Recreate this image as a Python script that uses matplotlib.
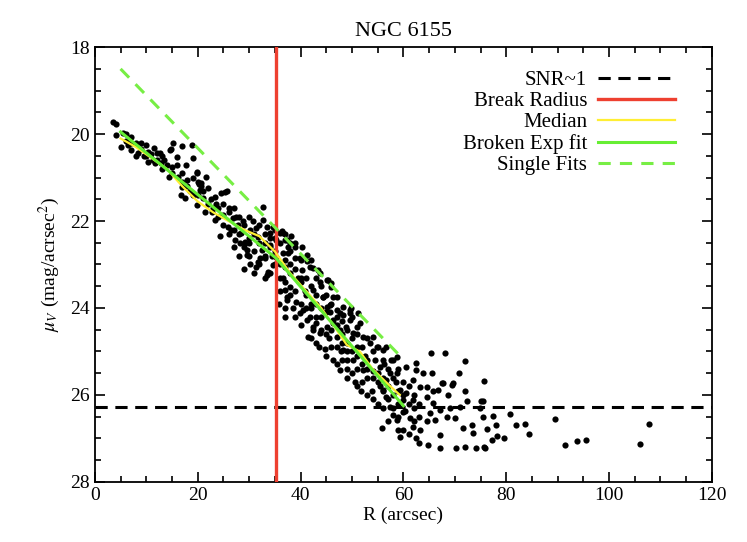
import numpy as np
import matplotlib
matplotlib.use('Agg')
import matplotlib.pyplot as plt
from matplotlib.ticker import MultipleLocator

plt.rcParams['font.family'] = ['Liberation Serif', 'DejaVu Serif']
plt.rcParams['mathtext.fontset'] = 'stix'

# surface brightness points (R arcsec, mu_V)
pts_inner = [(3.5, 19.72), (4.1, 19.77), (4.1, 20.02), (5.5, 19.98), (7.1, 20.06), (7.0, 20.37),
             (8.4, 20.43), (10.0, 20.24), (10.4, 20.41), (11.5, 20.33), (12.0, 20.44), (12.6, 20.44),
             (10.4, 20.64), (11.7, 20.66), (11.3, 20.6), (12.8, 20.67), (14.6, 20.37), (15.2, 20.21),
             (15.9, 20.52), (14.5, 20.98), (16.2, 20.98), (16.9, 21.21), (16.7, 21.4), (17.5, 21.48),
             (18.9, 20.25), (19.8, 20.87), (19.1, 20.56), (20.1, 21.1), (20.4, 21.29), (21.1, 21.48),
             (19.8, 21.63), (21.4, 21.79), (19.1, 21.4), (20.6, 21.2), (14.9, 20.35), (16.9, 20.28),
             (17.8, 20.71), (19.9, 20.89), (20.3, 21.15), (22.0, 21.25), (21.6, 20.98), (24.6, 21.35),
             (23.3, 21.44), (20.7, 21.13), (22.7, 21.79), (23.3, 21.98), (24.3, 22.35),
             (6.0, 20.15), (8.0, 20.2), (9.0, 20.35), (13.5, 20.6), (15.0, 20.75), (17.0, 20.9),
             (18.0, 21.05), (22.5, 21.5), (24.0, 21.7), (6.5, 20.25), (9.5, 20.5), (13.0, 20.8),
             (18.5, 21.3), (23.5, 21.6), (5.0, 20.3), (6.0, 20.0), (7.0, 20.2), (8.0, 20.5),
             (9.0, 20.2), (10.0, 20.5), (11.0, 20.45), (12.0, 20.6), (13.0, 20.5), (14.0, 20.7),
             (15.0, 20.9), (16.0, 20.7), (17.0, 21.1), (18.0, 21.2), (19.0, 21.0), (20.0, 21.4),
             (21.0, 21.3), (22.0, 21.6), (23.0, 21.7), (24.0, 21.9)]
pts_mid = [(25.3, 21.33), (25.6, 21.3), (25.0, 21.86), (25.9, 22.13), (26.9, 21.94), (27.2, 22.44),
           (28.5, 22.28), (29.2, 22.48), (29.5, 22.67), (30.8, 22.01), (31.4, 22.17), (32.1, 22.86),
           (32.7, 21.98), (33.4, 22.13), (34.0, 22.28), (34.7, 23.01), (28.2, 22.51), (30.1, 22.21),
           (31.8, 22.36), (32.7, 21.67), (29.2, 22.51), (29.5, 22.78), (31.4, 23.05), (33.4, 23.24),
           (33.1, 22.86), (30.1, 23.0), (31.7, 22.94), (33.6, 23.17), (32.5, 22.67), (34.0, 22.55),
           (34.7, 22.13), (26.0, 21.7), (27.5, 21.9), (28.8, 22.0), (30.0, 22.4), (33.0, 22.5),
           (35.0, 22.4), (26.5, 22.2), (27.8, 22.1), (34.5, 22.8),
           (25.0, 21.6), (25.0, 22.1), (26.0, 21.8), (26.0, 22.3), (27.0, 21.7), (27.0, 22.2),
           (27.0, 22.6), (28.0, 21.9), (28.0, 22.3), (28.0, 22.8), (29.0, 22.1), (29.0, 22.6),
           (29.0, 23.1), (30.0, 21.9), (30.0, 22.5), (30.0, 22.8), (31.0, 22.3), (31.0, 22.7),
           (31.0, 23.2), (32.0, 22.1), (32.0, 22.5), (32.0, 23.0), (33.0, 22.3), (33.0, 22.8),
           (33.0, 23.3), (34.0, 22.4), (34.0, 22.6), (34.0, 23.2), (35.0, 22.2), (35.0, 22.7),
           (35.0, 23.0)]
pts_outer = [(36.6, 22.28), (37.9, 22.51), (37.6, 22.74), (39.9, 22.86), (41.2, 22.78), (41.8, 23.05),
             (40.2, 23.13), (36.9, 23.59), (37.3, 23.82), (38.6, 24.01), (39.9, 24.12), (43.4, 23.13),
             (43.8, 23.4), (45.4, 23.36), (42.5, 23.59), (44.4, 23.74), (45.7, 23.93), (47.0, 24.05),
             (48.3, 24.16), (41.2, 24.28), (42.5, 24.43), (43.8, 24.58), (41.5, 24.66), (46.3, 24.35),
             (47.6, 24.51), (49.6, 24.28), (50.9, 24.43), (52.2, 24.66), (53.5, 24.81), (54.8, 24.89),
             (49.9, 24.01), (51.2, 24.12), (36.3, 22.24), (36.9, 22.44), (37.6, 22.59), (36.6, 22.74),
             (38.9, 22.86), (36.0, 22.28), (37.3, 22.44), (41.2, 22.93), (42.5, 23.09), (43.8, 23.2),
             (45.1, 23.36), (46.0, 23.51), (47.0, 23.74), (48.3, 23.97), (49.6, 24.12), (36.9, 23.05),
             (36.6, 23.32), (37.9, 23.51), (37.3, 23.74), (39.2, 23.86), (40.5, 24.05), (41.8, 24.2),
             (43.1, 24.35), (42.5, 24.51), (45.1, 24.43), (46.3, 24.28), (47.6, 24.12), (48.9, 24.43),
             (50.2, 24.58), (44.4, 23.74), (45.1, 23.97), (35.3, 22.44), (35.3, 22.82),
             (46.0, 23.43), (46.3, 23.74), (49.6, 24.05), (51.5, 24.35), (54.1, 24.66), (56.7, 24.89),
             (58.7, 25.12), (47.0, 24.66), (48.3, 24.97), (50.2, 25.2), (52.2, 25.43), (55.4, 25.35),
             (57.4, 25.5), (60.6, 25.35), (62.5, 25.43), (46.3, 25.2), (47.6, 25.43),
             (39.0, 22.6), (40.0, 23.4), (38.0, 23.0), (44.0, 24.0), (45.5, 24.7), (48.0, 24.8),
             (49.0, 25.0), (51.0, 24.9), (52.5, 25.1), (53.0, 25.6), (54.5, 25.2), (55.5, 25.8),
             (56.0, 25.6), (57.5, 25.2), (58.5, 25.7), (50.5, 25.7), (51.8, 25.9), (53.8, 25.9),
             (44.8, 24.95), (43.0, 23.7), (40.8, 23.6), (39.5, 23.3), (42.0, 24.0), (45.8, 24.1),
             (47.8, 25.0), (36.0, 23.3), (38.2, 22.35), (40.3, 22.6), (35.8, 23.9), (37.0, 24.2),
             (43.5, 24.9), (49.0, 25.4), (54.0, 25.45), (56.2, 25.3)]
pts_dense = [(36, 22.5), (36, 23.0), (36, 23.6), (37, 22.3), (37, 22.9), (37, 23.4), (37, 24.0),
             (38, 22.7), (38, 23.2), (38, 23.7), (39, 22.5), (39, 23.1), (39, 23.6), (39, 24.2),
             (40, 22.9), (40, 23.3), (40, 23.9), (40, 24.4), (41, 23.3), (41, 23.7), (41, 24.0),
             (42, 22.9), (42, 23.5), (42, 23.9), (42, 24.7), (43, 23.3), (43, 23.9), (43, 24.2),
             (43, 24.8), (44, 23.5), (44, 24.2), (44, 24.5), (45, 23.7), (45, 24.1), (45, 24.6),
             (45, 25.1), (46, 23.9), (46, 24.5), (46, 24.9), (47, 24.2), (47, 24.4), (47, 24.9),
             (47, 25.3), (48, 24.3), (48, 24.6), (48, 25.2), (49, 24.5), (49, 24.8), (49, 25.2),
             (49, 25.6), (50, 24.2), (50, 24.7), (50, 25.0), (50, 25.5), (51, 24.6), (51, 25.1),
             (51, 25.4), (51, 25.8), (52, 24.9), (52, 25.3), (52, 25.7), (53, 24.7), (53, 25.2),
             (53, 25.4), (53, 26.0), (54, 25.0), (54, 25.6), (54, 26.1), (55, 24.9), (55, 25.5),
             (55, 25.7), (55, 26.2), (56, 25.2), (56, 25.9), (56, 26.3), (57, 25.4), (57, 25.8),
             (57, 26.1), (57, 26.6), (58, 25.6), (58, 26.0), (58, 26.3), (59, 25.4), (59, 25.9),
             (59, 26.2), (59, 26.5), (60, 25.7), (60, 26.0), (60, 26.4), (60, 26.8), (61, 25.8),
             (61, 26.2), (61, 26.9), (62, 26.0), (62, 26.3), (62, 26.6), (63, 26.2), (63, 26.5),
             (63, 27.1)]
pts_tail = [(56.1, 24.97), (58.0, 25.2), (58.7, 25.5), (62.5, 25.27), (63.9, 25.5), (61.9, 25.66),
            (63.2, 25.81), (60.6, 25.96), (61.9, 26.11), (64.5, 26.04), (65.8, 26.19), (67.7, 25.73),
            (69.4, 25.77), (66.8, 25.89), (68.7, 26.0), (72.0, 25.92), (72.3, 26.15), (67.1, 26.34),
            (69.0, 26.3), (71.0, 26.27), (74.9, 26.3), (75.5, 26.15), (65.1, 26.42), (64.5, 26.61),
            (66.1, 26.57), (68.4, 26.5), (70.0, 26.54), (61.9, 26.73), (63.2, 26.8), (67.1, 26.92),
            (71.6, 26.77), (73.3, 26.69), (73.6, 26.88), (70.3, 27.22), (72.0, 27.2), (74.2, 27.22),
            (75.8, 27.22), (67.1, 27.22), (64.8, 27.15), (62.5, 27.0), (59.3, 26.96), (59.0, 26.8),
            (58.7, 26.57), (58.0, 26.46), (55.8, 26.77), (57.4, 26.27), (56.7, 26.04), (56.1, 25.89),
            (56.7, 25.66), (59.3, 25.89), (60.0, 26.11), (60.3, 26.38), (61.3, 26.54), (64.5, 25.81),
            (65.8, 25.92), (65.3, 25.03), (68.1, 25.04), (72.0, 25.23), (70.8, 25.49), (75.7, 25.69),
            (65.5, 25.5), (67.6, 25.72), (69.6, 25.73), (75.0, 26.14), (75.5, 26.5), (77.5, 26.48),
            (76.3, 26.79), (78.0, 26.7), (78.2, 26.94), (77.3, 27.03), (79.6, 27.0), (80.8, 26.44),
            (81.9, 26.69), (83.7, 26.67), (84.4, 26.91), (89.4, 26.55), (91.5, 27.15), (93.8, 27.05),
            (95.5, 27.03), (106.0, 27.13), (107.7, 26.67), (75.6, 27.2)]

# median profile
med_r = [5, 8, 11, 14, 17, 20, 23, 26, 29, 32, 35, 38, 41, 44, 47, 49, 51.5, 54, 57, 59.3]
med_mu = [20.1, 20.3, 20.55, 20.8, 21.2, 21.55, 21.8, 22.0, 22.2, 22.35, 22.7, 23.2, 23.6,
          24.0, 24.5, 24.85, 25.0, 25.4, 25.75, 26.0]

# broken exponential fit and single fit
fit_r = [5, 35.2, 60]
fit_mu = [19.95, 22.85, 26.25]
single_r = [5, 59.5]
single_mu = [18.5, 25.12]

r_break = 35.2
snr_mu = 26.28

pts = pts_inner + pts_mid + pts_outer + pts_dense + pts_tail
r = np.array([p[0] for p in pts])
mu = np.array([p[1] for p in pts])

fig = plt.figure(figsize=(7.47, 5.42), dpi=100)
ax = fig.add_axes([0.127, 0.111, 0.826, 0.802])

ax.scatter(r, mu, s=20, color='black', zorder=2, linewidths=0)
ax.axhline(snr_mu, color='black', ls=(0, (4, 2.5)), lw=2.2, label='SNR~1', zorder=3)
ax.axvline(r_break, color='#ee4030', lw=2.4, label='Break Radius', zorder=3)
ax.plot(med_r, med_mu, color='#ffee33', lw=1.6, label='Median', zorder=4)
ax.plot(fit_r, fit_mu, color='#66ee33', lw=2.2, label='Broken Exp fit', zorder=5)
ax.plot(single_r, single_mu, color='#77ee44', lw=2.2, ls=(0, (4, 3)), label='Single Fits', zorder=5)

ax.set_xlim(0, 120)
ax.set_ylim(28, 18)
ax.xaxis.set_major_locator(MultipleLocator(20))
ax.xaxis.set_minor_locator(MultipleLocator(5))
ax.yaxis.set_major_locator(MultipleLocator(2))
ax.yaxis.set_minor_locator(MultipleLocator(0.5))
ax.tick_params(which='both', direction='in', top=True, right=True, labelsize=14, width=1.2)
ax.tick_params(which='major', length=7)
ax.tick_params(which='minor', length=4)
for s in ax.spines.values():
    s.set_linewidth(1.3)

ax.set_xlabel('R (arcsec)', fontsize=14, labelpad=2)
ax.set_ylabel(r'$\mu_V$ (mag/acrsec$^2$)', fontsize=14, labelpad=6)
ax.set_title('NGC 6155', fontsize=16, pad=8)

ax.legend(loc='upper right', bbox_to_anchor=(0.97, 0.99), frameon=False, markerfirst=False,
          fontsize=15, handlelength=3.7, labelspacing=0.08, handletextpad=0.5)

fig.savefig('out.png', dpi=100)
